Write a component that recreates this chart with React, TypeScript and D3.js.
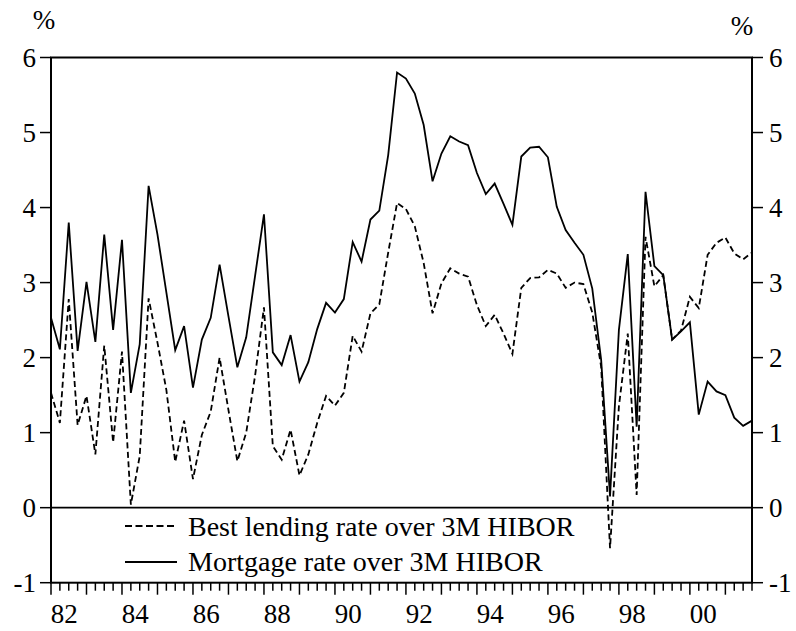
import * as d3 from 'd3'

// quarterly observations, 1982Q1 .. 2001Q4
const mortgageSpread = [
  2.53, 2.11, 3.8, 2.09, 3.01, 2.21, 3.64, 2.37, 3.57, 1.53,
  2.18, 4.29, 3.64, 2.87, 2.1, 2.42, 1.6, 2.24, 2.53, 3.24,
  2.55, 1.87, 2.27, 3.09, 3.91, 2.07, 1.9, 2.3, 1.68, 1.94,
  2.38, 2.73, 2.6, 2.78, 3.54, 3.28, 3.84, 3.96, 4.7, 5.8,
  5.72, 5.52, 5.1, 4.35, 4.72, 4.95, 4.88, 4.83, 4.46, 4.18,
  4.32, 4.05, 3.77, 4.68, 4.8, 4.81, 4.67, 4.01, 3.7, 3.53,
  3.37, 2.92, 1.97, 0.15, 2.37, 3.38, 1.08, 4.21, 3.22, 3.1,
  2.24, 2.35, 2.47, 1.24, 1.68, 1.55, 1.5, 1.2, 1.09, 1.16,
]
const bestLendingSpread = [
  1.53, 1.13, 2.78, 1.1, 1.49, 0.71, 2.16, 0.87, 2.08, 0.04,
  0.69, 2.79, 2.2, 1.57, 0.61, 1.16, 0.38, 0.97, 1.28, 2.0,
  1.3, 0.62, 1.0, 1.76, 2.67, 0.82, 0.64, 1.04, 0.43, 0.71,
  1.13, 1.49, 1.36, 1.53, 2.29, 2.08, 2.59, 2.71, 3.4, 4.06,
  3.98, 3.75, 3.26, 2.59, 2.99, 3.19, 3.12, 3.08, 2.7, 2.42,
  2.57, 2.32, 2.05, 2.93, 3.06, 3.07, 3.17, 3.12, 2.93, 3.0,
  2.98, 2.6, 1.88, -0.54, 1.35, 2.32, 0.17, 3.61, 2.95, 3.1,
  2.24, 2.36, 2.81, 2.66, 3.37, 3.53, 3.6, 3.39, 3.31, 3.4,
]
const yearLabels = ['82', '84', '86', '88', '90', '92', '94', '96', '98', '00']
const yTicks = [-1, 0, 1, 2, 3, 4, 5, 6]
const legendLabels = ['Best lending rate over 3M HIBOR', 'Mortgage rate over 3M HIBOR']

const W = 796
const H = 631
const left = 51
const right = 752
const top = 57.5
const bottom = 582.7
const serif = { fontFamily: "'Liberation Serif'" }
const fs = 27
const legendFs = 28

const App = () => {
  const n = mortgageSpread.length
  const x = d3.scaleLinear().domain([0, n - 1]).range([left, right])
  const y = d3.scaleLinear().domain([-1, 6]).range([bottom, top])

  const line = d3
    .line<number>()
    .x((_d, i) => x(i))
    .y((d) => y(d))

  const quarters = d3.range(n)

  return (
    <svg width={W} height={H} style={{ position: 'absolute', left: 0, top: 0 }}>
      <rect x={0} y={0} width={W} height={H} fill="#fff" />
      {/* zero line */}
      <line x1={left} x2={right} y1={y(0)} y2={y(0)} stroke="#000" strokeWidth={1.8} />

      <path d={line(bestLendingSpread) ?? ''} fill="none" stroke="#000" strokeWidth={1.8} strokeDasharray="6,3.5" />
      <path d={line(mortgageSpread) ?? ''} fill="none" stroke="#000" strokeWidth={1.8} />

      {/* frame */}
      <rect x={left} y={top} width={right - left} height={bottom - top} fill="none" stroke="#000" strokeWidth={2} />

      {/* y axes, left and right */}
      {yTicks.map((t) => (
        <line key={'yl' + t} x1={left - 11} x2={left} y1={y(t)} y2={y(t)} stroke="#000" strokeWidth={1.5} />
      ))}
      {yTicks.map((t) => (
        <line key={'yr' + t} x1={right} x2={right + 11} y1={y(t)} y2={y(t)} stroke="#000" strokeWidth={1.5} />
      ))}
      {yTicks.map((t) => (
        <text key={'tl' + t} x={left - 15} y={y(t) + 9} textAnchor="end" fontSize={fs} style={serif}>
          {t}
        </text>
      ))}
      {yTicks.map((t) => (
        <text key={'tr' + t} x={right + 17} y={y(t) + 9} fontSize={fs} style={serif}>
          {t}
        </text>
      ))}
      <text x={44} y={29} textAnchor="middle" fontSize={fs} style={serif}>%</text>
      <text x={742} y={35} textAnchor="middle" fontSize={fs} style={serif}>%</text>

      {/* x axis: quarterly minor ticks, yearly major ticks */}
      {quarters.map((q) => (
        <line
          key={'q' + q}
          x1={x(q)}
          x2={x(q)}
          y1={bottom}
          y2={bottom + (q % 4 === 0 ? 12 : 8)}
          stroke="#000"
          strokeWidth={1.5}
        />
      ))}
      {yearLabels.map((lab, k) => (
        <text key={lab} x={x(k * 8 + 1.5)} y={623} textAnchor="middle" fontSize={fs} style={serif}>
          {lab}
        </text>
      ))}

      {/* legend */}
      <line x1={125} x2={177} y1={526} y2={526} stroke="#000" strokeWidth={1.8} strokeDasharray="7,3.5" />
      <text x={188} y={536} fontSize={legendFs} style={serif}>{legendLabels[0]}</text>
      <line x1={125} x2={177} y1={562} y2={562} stroke="#000" strokeWidth={1.8} />
      <text x={188} y={571} fontSize={legendFs} style={serif}>{legendLabels[1]}</text>
    </svg>
  )
}

export default App
